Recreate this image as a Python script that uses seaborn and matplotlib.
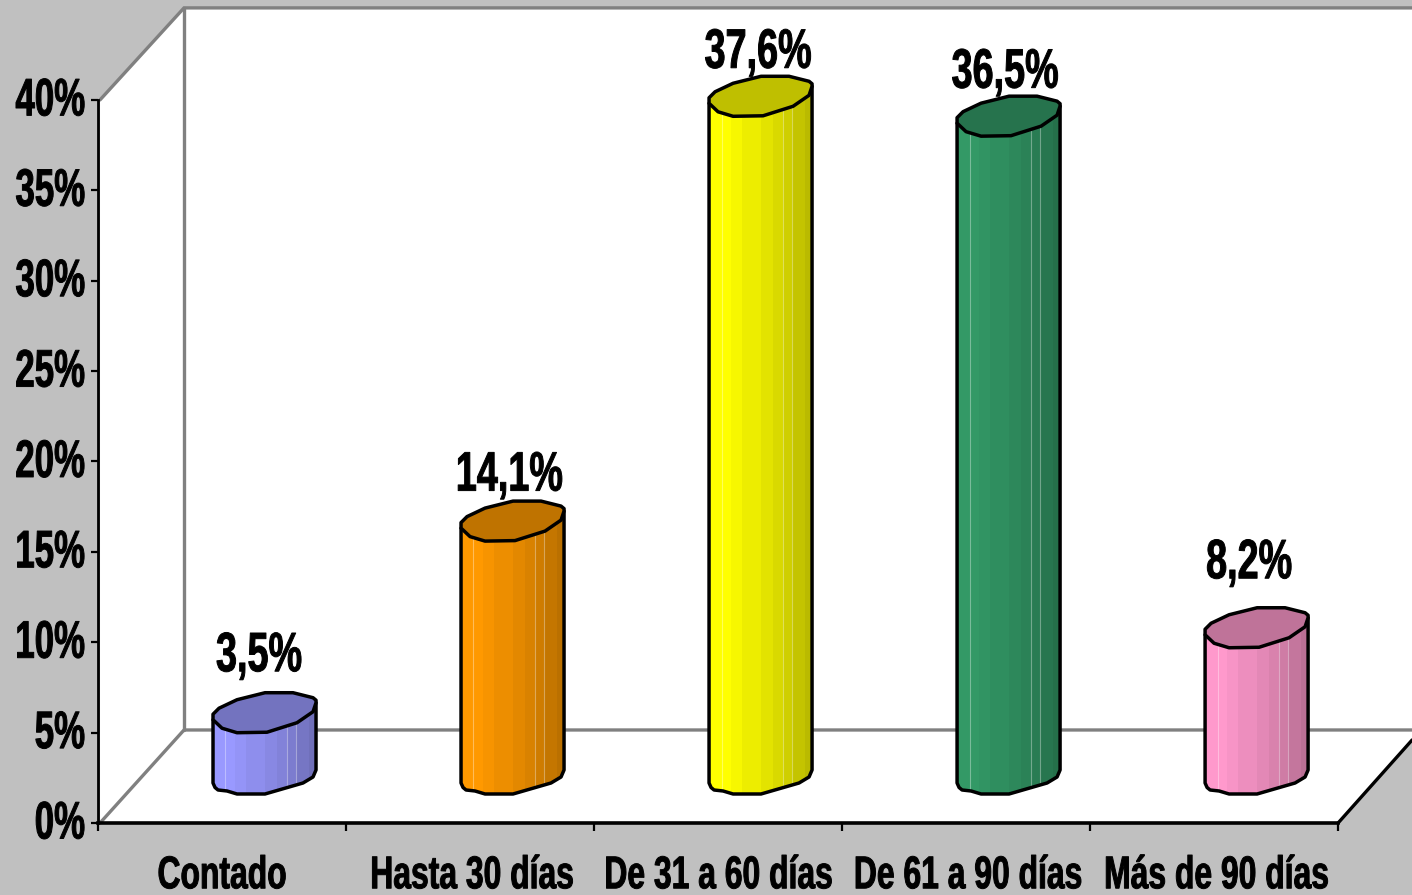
import numpy as np
import pandas as pd
import matplotlib
matplotlib.use("Agg")
import matplotlib.pyplot as plt
import seaborn as sns
from matplotlib.patches import Polygon
from matplotlib.patheffects import AbstractPathEffect
from matplotlib.transforms import Affine2D, Bbox

categories = ["Contado", "Hasta 30 días", "De 31 a 60 días", "De 61 a 90 días", "Más de 90 días"]
values = [3.5, 14.1, 37.6, 36.5, 8.2]
value_labels = ["3,5%", "14,1%", "37,6%", "36,5%", "8,2%"]
side_colors = ["#9999FF", "#FF9900", "#FFFF00", "#339966", "#FF99CC"]
y_ticks = [0, 5, 10, 15, 20, 25, 30, 35, 40]

# shading bands across the cylinder, left to right
band_edges = [0, 0.13, 0.22, 0.33, 0.51, 0.62, 0.72, 0.81, 0.93, 1]
band_shades = [1.0, 1.0, 0.97, 0.93, 0.89, 0.85, 0.81, 0.77, 0.73]
light_lines = [0.13, 0.72, 0.81]

# label nudges, in pixels
label_dx = [-5, -3, -2, -3, -7]
label_dy = [30, 19, 17, 17, 38]
xlabel_dx = [0, 2, 0.5, 2, 2.5]

W, H = 1412, 895
PX_X = 248.0
PX_Y = 723 / 40

# outline of the cap and the bottom of a bar, pixels from the bar centre
cap_px = [(-51, -6.5), (-51, -1), (-45, 5), (-27, 13.5), (1, 20.5), (29, 20.5), (39, 18), (49, 15.5),
          (52, 13), (52, 10.5), (49, 1.5), (33, -9.5), (3, -19), (-27, -19.5), (-42, -15)]
bottom_px = [(-51, -6.5), (-49, -11), (-46, -13.5), (-37, -14.5), (-27, -17.5), (1, -17.5), (39, -6.5),
             (49, -0.5), (52, 6.5)]


class Condense(AbstractPathEffect):
    # the original lettering is a squeezed Arial Bold, no narrow font is installed
    def __init__(self, sx=0.67, anchor="center", dx=0, dy=0):
        super().__init__()
        self.sx = sx
        self.anchor = anchor
        self.dx = dx
        self.dy = dy

    def draw_path(self, renderer, gc, tpath, affine, rgbFace=None):
        ext = affine.transform_path(tpath).get_extents()
        x0 = ext.x1 if self.anchor == "right" else (ext.x0 + ext.x1) / 2
        squeezed = affine + Affine2D().translate(-x0, self.dy).scale(self.sx, 1).translate(x0 + self.dx, 0)
        gc0 = renderer.new_gc()
        gc0.copy_properties(gc)
        gc0.set_foreground("black")
        gc0.set_linewidth(0.7)
        renderer.draw_path(gc0, tpath, squeezed, rgbFace)
        gc0.restore()


def condense(text, sx=0.67, anchor="center", dx=0, dy=0):
    text.set_path_effects([Condense(sx, anchor, dx, dy)])
    original = text.get_window_extent

    def squeezed_extent(*args, **kwargs):
        b = original(*args, **kwargs)
        x0 = b.x1 if anchor == "right" else (b.x0 + b.x1) / 2
        return Bbox.from_extents(x0 + dx + (b.x0 - x0) * sx, b.y0 + dy, x0 + dx + (b.x1 - x0) * sx, b.y1 + dy)

    text.get_window_extent = squeezed_extent


sns.set_theme(style="white")
plt.rcParams["font.family"] = ["Liberation Sans", "DejaVu Sans"]
plt.rcParams["font.weight"] = "bold"

fig = plt.figure(figsize=(W / 100 + 0.001, H / 100 + 0.001), dpi=100, facecolor="#C0C0C0")

# walls and floor
bg = fig.add_axes([0, 0, 1, 1])
bg.set_xlim(0, W)
bg.set_ylim(H, 0)
bg.axis("off")
bg.add_patch(Polygon([(100, 100), (184, 8), (1412, 8), (1412, 740), (1338, 823), (100, 823)], fc="white", ec="none"))
bg.plot([100, 184, 184, 1412], [100, 8, 8, 8], color="#808080", lw=2.4, solid_joinstyle="miter")
bg.plot([184, 184], [8, 730], color="#808080", lw=2.4)
bg.plot([100, 184, 1412], [823, 730, 730], color="#808080", lw=2.4)
bg.plot([1338, 1412], [823, 740], color="black", lw=2.4)

# front axis
ax = fig.add_axes([98 / W, (H - 823) / H, 1240 / W, 723 / H])
ax.patch.set_alpha(0)
ax.set_xlim(0, 5)
ax.set_ylim(0, 40)
ax.set_yticks(y_ticks)
ax.set_yticklabels([f"{t}%" for t in y_ticks], fontsize=38, fontweight="bold")
ax.set_xticks(np.arange(5) + 0.5)
ax.set_xticklabels(categories, fontsize=33, fontweight="bold")
ax.set_xticks(np.arange(6), minor=True)
ax.tick_params(axis="x", which="major", length=0, pad=22.5, colors="black")
ax.tick_params(axis="x", which="minor", length=6, width=1.6, color="black", bottom=True)
ax.tick_params(axis="y", length=5, width=1.6, pad=4, color="black", left=True, labelcolor="black")
for lbl in ax.get_yticklabels():
    condense(lbl, 0.66, "right", dy=4)
for lbl, nudge in zip(ax.get_xticklabels(), xlabel_dx):
    condense(lbl, 0.695, dx=nudge)
sns.despine(ax=ax)
ax.spines["left"].set_linewidth(2)
ax.spines["left"].set_color("black")
ax.spines["bottom"].set_linewidth(2.6)
ax.spines["bottom"].set_color("black")

# bars sit half way into the floor depth
bar_ax = fig.add_axes([(98 + 42) / W, (H - 823 + 46.5) / H, 1240 / W, 723 / H])
bar_ax.patch.set_alpha(0)
df = pd.DataFrame({"categoria": categories, "valor": values})
sns.barplot(data=df, x="categoria", y="valor", hue="categoria", palette=side_colors, width=0.42,
            legend=False, ax=bar_ax, saturation=1)


def clip_to(artist, patch):
    artist.set_clip_path(patch)
    artist.set_clip_box(None)


for i, (v, col) in enumerate(zip(values, side_colors)):
    rgb = np.array(matplotlib.colors.to_rgb(col))
    left_pts = [(i + dx / PX_X, dy / PX_Y) for dx, dy in bottom_px]
    top_right = (i + 52 / PX_X, v + 10.5 / PX_Y)
    top_left = (i - 51 / PX_X, v - 6.5 / PX_Y)
    body = Polygon([top_left] + left_pts + [top_right], closed=True, fc="none", ec="none", clip_on=False, zorder=3)
    bar_ax.add_patch(body)

    # the seaborn bar itself gets the same rounded outline
    clip_to(bar_ax.patches[i], body)

    for j, shade in enumerate(band_shades):
        x0 = i - 0.21 + band_edges[j] * 0.42
        w = (band_edges[j + 1] - band_edges[j]) * 0.42
        rects = bar_ax.bar(x0, v + 2 + 1.2, width=w, bottom=-1.2, align="edge", color=rgb * shade,
                           linewidth=0, zorder=4)
        clip_to(rects[0], body)
    for f in light_lines:
        x = i - 0.21 + f * 0.42
        ln = bar_ax.plot([x, x], [-1.2, v + 1], color="white", alpha=0.35, lw=0.8, zorder=5)[0]
        clip_to(ln, body)

    bar_ax.add_patch(Polygon([top_left] + left_pts + [top_right], closed=True, fc="none", ec="black", lw=2.5,
                             clip_on=False, zorder=6, joinstyle="round"))
    cap = [(i + dx / PX_X, v + dy / PX_Y) for dx, dy in cap_px]
    bar_ax.add_patch(Polygon(cap, closed=True, fc=rgb * 0.75, ec="black", lw=2.5, clip_on=False, zorder=7,
                             joinstyle="round"))
    note = bar_ax.annotate(value_labels[i], xy=(i, v), xytext=(label_dx[i], label_dy[i]), textcoords="offset pixels",
                           ha="center", va="bottom", fontsize=40, fontweight="bold", color="black",
                           annotation_clip=False, zorder=8)
    condense(note, 0.68)

bar_ax.set_xlim(-0.5, 4.5)
bar_ax.set_ylim(0, 40)
bar_ax.axis("off")

fig.savefig("out.png", dpi=100, facecolor=fig.get_facecolor())
